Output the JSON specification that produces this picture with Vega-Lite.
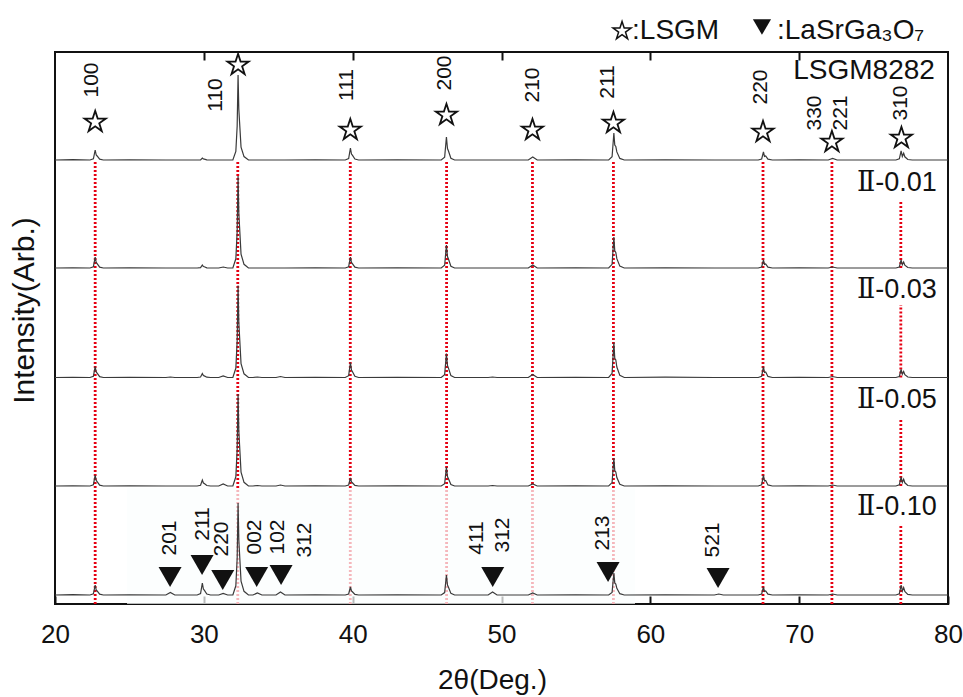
{
 "$schema": "https://vega.github.io/schema/vega-lite/v6.json",
 "width": 893, "height": 552,
 "autosize": {"type": "none"},
 "padding": {"left": 55, "top": 52, "right": 15, "bottom": 93},
 "background": "white",
 "config": {"view": {"stroke": "#111", "strokeWidth": 2}, "font": "Liberation Sans"},
 "datasets": {
  "trace": [
   {"x":20,"A":444,"B":336,"C":226.5,"D":118,"E":9},
   {"x":21.2,"A":444.3,"B":336.2,"C":226.7,"D":118.2,"E":9.3},
   {"x":22.35,"A":444,"B":336,"C":226.5,"D":118,"E":9},
   {"x":22.58,"A":445.2,"B":337.3,"C":227.8,"D":119.3,"E":10.2},
   {"x":22.7,"A":454,"B":347,"C":237.5,"D":129,"E":19},
   {"x":22.77,"A":449,"B":341.5,"C":232,"D":123.5,"E":14},
   {"x":22.83,"A":448,"B":340.4,"C":230.9,"D":122.4,"E":13},
   {"x":23.0,"A":444.8,"B":336.9,"C":227.4,"D":118.9,"E":9.8},
   {"x":23.25,"A":444,"B":336,"C":226.5,"D":118,"E":9},
   {"x":25.0,"A":444.2,"B":336.1,"C":226.6,"D":118.1,"E":9.2},
   {"x":27.45,"A":444,"B":336,"C":226.5,"D":118,"E":9},
   {"x":27.75,"A":444,"B":336,"C":227,"D":118,"E":11.5},
   {"x":28.05,"A":444,"B":336,"C":226.5,"D":118,"E":9},
   {"x":29.55,"A":444,"B":336,"C":226.5,"D":118,"E":9},
   {"x":29.78,"A":444.2,"B":336.4,"C":227,"D":118.7,"E":10.4},
   {"x":29.9,"A":446,"B":339,"C":230.5,"D":124,"E":21},
   {"x":29.97,"A":445,"B":337.5,"C":228.5,"D":121,"E":15},
   {"x":30.03,"A":444.8,"B":337.2,"C":228.1,"D":120.4,"E":13.8},
   {"x":30.2,"A":444.2,"B":336.2,"C":226.8,"D":118.5,"E":10},
   {"x":30.45,"A":444,"B":336,"C":226.5,"D":118,"E":9},
   {"x":31.0,"A":444,"B":336,"C":226.5,"D":118,"E":9},
   {"x":31.3,"A":444,"B":337,"C":228,"D":120,"E":10.5},
   {"x":31.6,"A":444,"B":336,"C":226.5,"D":118,"E":9},
   {"x":31.95,"A":444,"B":336,"C":226.5,"D":118,"E":9},
   {"x":32.15,"A":452.5,"B":345.2,"C":235.7,"D":127.2,"E":18.2},
   {"x":32.24,"A":478,"B":372.8,"C":263.3,"D":154.8,"E":45.8},
   {"x":32.3,"A":529,"B":428,"C":318.5,"D":210,"E":101},
   {"x":32.35,"A":495,"B":391.2,"C":281.7,"D":173.2,"E":64.2},
   {"x":32.4,"A":482.3,"B":377.4,"C":267.9,"D":159.4,"E":50.4},
   {"x":32.5,"A":456.8,"B":349.8,"C":240.3,"D":131.8,"E":22.8},
   {"x":32.7,"A":447.4,"B":339.7,"C":230.2,"D":121.7,"E":12.7},
   {"x":33.0,"A":444,"B":336,"C":226.5,"D":118,"E":9},
   {"x":33.3,"A":444,"B":336,"C":226.5,"D":118,"E":9},
   {"x":33.6,"A":444,"B":336,"C":227,"D":118.5,"E":11},
   {"x":33.9,"A":444,"B":336,"C":226.5,"D":118,"E":9},
   {"x":34.85,"A":444,"B":336,"C":226.5,"D":118,"E":9},
   {"x":35.15,"A":444,"B":336,"C":227.5,"D":119,"E":12},
   {"x":35.45,"A":444,"B":336,"C":226.5,"D":118,"E":9},
   {"x":37.5,"A":444.2,"B":336.2,"C":226.7,"D":118.2,"E":9.2},
   {"x":39.5,"A":444,"B":336,"C":226.5,"D":118,"E":9},
   {"x":39.73,"A":445.4,"B":337.3,"C":228.3,"D":119,"E":10},
   {"x":39.85,"A":456,"B":347,"C":241.5,"D":126,"E":17},
   {"x":39.92,"A":450,"B":341.5,"C":234,"D":122,"E":13},
   {"x":39.98,"A":448.8,"B":340.4,"C":232.5,"D":121.2,"E":12.2},
   {"x":40.15,"A":445,"B":336.9,"C":227.7,"D":118.6,"E":9.6},
   {"x":40.4,"A":444,"B":336,"C":226.5,"D":118,"E":9},
   {"x":43.0,"A":444.1,"B":336.2,"C":226.6,"D":118.1,"E":9.2},
   {"x":45.95,"A":444,"B":336,"C":226.5,"D":118,"E":9},
   {"x":46.18,"A":446.8,"B":338.8,"C":229.4,"D":120.3,"E":11.4},
   {"x":46.3,"A":467,"B":359,"C":250.5,"D":137,"E":29},
   {"x":46.37,"A":455.5,"B":347.5,"C":238.5,"D":127.5,"E":19},
   {"x":46.43,"A":453.2,"B":345.2,"C":236.1,"D":125.6,"E":17},
   {"x":46.6,"A":445.8,"B":337.8,"C":228.4,"D":119.5,"E":10.6},
   {"x":46.85,"A":444,"B":336,"C":226.5,"D":118,"E":9},
   {"x":49.1,"A":444,"B":336,"C":226.5,"D":118,"E":9},
   {"x":49.4,"A":444,"B":336,"C":227,"D":118.5,"E":12},
   {"x":49.7,"A":444,"B":336,"C":226.5,"D":118,"E":9},
   {"x":51.8,"A":444,"B":336,"C":226.5,"D":118,"E":9},
   {"x":52.1,"A":447,"B":339,"C":229.5,"D":120,"E":11},
   {"x":52.4,"A":444,"B":336,"C":226.5,"D":118,"E":9},
   {"x":55.0,"A":444.2,"B":336.1,"C":226.7,"D":118.2,"E":9.2},
   {"x":57.2,"A":444,"B":336,"C":226.5,"D":118,"E":9},
   {"x":57.43,"A":447.2,"B":339.7,"C":230.7,"D":121.4,"E":11.6},
   {"x":57.55,"A":471,"B":367,"C":261.5,"D":146,"E":31},
   {"x":57.61,"A":458.9,"B":353.1,"C":245.8,"D":133.4,"E":21.1},
   {"x":57.68,"A":457.5,"B":351.5,"C":244,"D":132,"E":20},
   {"x":57.75,"A":452.1,"B":345.3,"C":237,"D":126.4,"E":15.6},
   {"x":57.95,"A":445.6,"B":337.9,"C":228.6,"D":119.7,"E":10.3},
   {"x":58.25,"A":444,"B":336,"C":226.5,"D":118,"E":9},
   {"x":61.0,"A":444.1,"B":336.2,"C":226.8,"D":118.1,"E":9.2},
   {"x":64.3,"A":444,"B":336,"C":226.5,"D":118,"E":9},
   {"x":64.6,"A":444,"B":336,"C":226.5,"D":118,"E":10},
   {"x":64.9,"A":444,"B":336,"C":226.5,"D":118,"E":9},
   {"x":67.25,"A":444,"B":336,"C":226.5,"D":118,"E":9},
   {"x":67.48,"A":445,"B":337,"C":227.8,"D":119.3,"E":10},
   {"x":67.6,"A":452,"B":344,"C":237.5,"D":129,"E":17},
   {"x":67.67,"A":447.6,"B":339.6,"C":231.5,"D":123,"E":12.6},
   {"x":67.75,"A":448,"B":340,"C":232,"D":123.5,"E":13},
   {"x":67.9,"A":444.8,"B":336.8,"C":227.6,"D":119.1,"E":9.8},
   {"x":68.2,"A":444,"B":336,"C":226.5,"D":118,"E":9},
   {"x":70.0,"A":444.2,"B":336.1,"C":226.6,"D":118.2,"E":9.1},
   {"x":71.95,"A":444,"B":336,"C":226.5,"D":118,"E":9},
   {"x":72.25,"A":445.5,"B":337,"C":227.5,"D":119,"E":10},
   {"x":72.55,"A":444,"B":336,"C":226.5,"D":118,"E":9},
   {"x":76.5,"A":444,"B":336,"C":226.5,"D":118,"E":9},
   {"x":76.73,"A":445.1,"B":337,"C":227.5,"D":119.1,"E":10.2},
   {"x":76.85,"A":453,"B":344,"C":234.5,"D":127,"E":19},
   {"x":76.93,"A":447.6,"B":339.2,"C":229.7,"D":121.6,"E":13},
   {"x":77.02,"A":450.8,"B":342,"C":232.5,"D":124.8,"E":16.5},
   {"x":77.1,"A":447.2,"B":338.8,"C":229.3,"D":121.2,"E":12.5},
   {"x":77.3,"A":444.5,"B":336.5,"C":227,"D":118.5,"E":9.6},
   {"x":77.6,"A":444,"B":336,"C":226.5,"D":118,"E":9},
   {"x":80,"A":444,"B":336,"C":226.5,"D":118,"E":9}
  ],
  "rules": [
   {"x":22.7,"y":0,"y2":444},
   {"x":32.28,"y":0,"y2":444},
   {"x":39.84,"y":0,"y2":444},
   {"x":46.31,"y":0,"y2":444},
   {"x":52.08,"y":0,"y2":444},
   {"x":57.52,"y":0,"y2":444},
   {"x":67.57,"y":0,"y2":444},
   {"x":72.2,"y":0,"y2":444},
   {"x":76.83,"y":336,"y2":402},
   {"x":76.83,"y":226.5,"y2":299},
   {"x":76.83,"y":118,"y2":184},
   {"x":76.83,"y":0,"y2":80}
  ],
  "shade": [{"x":24.84,"x2":58.97,"y":0,"y2":116}],
  "stars": [
   {"x":22.7,"y":482},{"x":32.3,"y":539},{"x":39.84,"y":474},{"x":46.3,"y":489},
   {"x":52.08,"y":474},{"x":57.52,"y":481},{"x":67.57,"y":472},{"x":72.2,"y":462},{"x":76.87,"y":466}
  ],
  "tris": [
   {"x":27.73,"y":27},{"x":29.88,"y":39},{"x":31.27,"y":24},{"x":33.55,"y":27},
   {"x":35.19,"y":29},{"x":49.41,"y":27},{"x":57.16,"y":32},{"x":64.55,"y":26}
  ],
  "hkl": [
   {"x":22.49,"y":524,"t":"100"},{"x":30.82,"y":509,"t":"110"},{"x":39.62,"y":519,"t":"111"},
   {"x":46.2,"y":531,"t":"200"},{"x":52.12,"y":519,"t":"210"},{"x":57.16,"y":522,"t":"211"},
   {"x":67.44,"y":517,"t":"220"},{"x":71.07,"y":491,"t":"330"},{"x":72.81,"y":491,"t":"221"},
   {"x":76.84,"y":501,"t":"310"},
   {"x":27.73,"y":66,"t":"201"},{"x":29.93,"y":80,"t":"211"},{"x":31.22,"y":65,"t":"220"},
   {"x":33.43,"y":67,"t":"002"},{"x":34.98,"y":67,"t":"102"},{"x":36.8,"y":64,"t":"312"},
   {"x":48.36,"y":66,"t":"411"},{"x":50.1,"y":69,"t":"312"},{"x":56.82,"y":71,"t":"213"},
   {"x":64.21,"y":64,"t":"521"}
  ],
  "samples": [
   {"x":79.25,"y":421,"t":"Ⅱ-0.01"},{"x":79.25,"y":314,"t":"Ⅱ-0.03"},
   {"x":79.25,"y":204,"t":"Ⅱ-0.05"},{"x":79.25,"y":97,"t":"Ⅱ-0.10"}
  ],
  "main": [{"x":79.12,"y":533,"t":"LSGM8282"}],
  "legtext": [{"x":58.77,"y":573,"t":":LSGM"},{"x":68.51,"y":573,"t":":LaSrGa₃O₇"}],
  "legstar": [{"x":58.1,"y":573}],
  "legtri": [{"x":67.5,"y":577}]
 },
 "encoding": {
  "x": {"field": "x", "type": "quantitative", "scale": {"domain": [20, 80], "nice": false, "zero": false}, "axis": null},
  "y": {"field": "y", "type": "quantitative", "scale": {"domain": [0, 552], "nice": false, "zero": false},
        "axis": {"title": "Intensity(Arb.)", "titleFontSize": 30, "titleFontWeight": "normal", "titleColor": "#111",
                 "titlePadding": 16, "titleY": 258, "labels": false, "ticks": false, "domain": false, "grid": false}}
 },
 "layer": [
  {
   "data": {"name": "rules"},
   "mark": {"type": "rule", "color": "#e60012", "strokeWidth": 2.8, "strokeDash": [2, 2]},
   "encoding": {
    "x": {"field": "x", "type": "quantitative", "scale": {"domain": [20, 80], "nice": false, "zero": false},
          "axis": {"orient": "top", "values": [30, 40, 50, 60, 70], "labels": false, "tickSize": -8, "tickWidth": 2,
                   "tickColor": "#111", "domain": false, "grid": false, "title": null}},
    "y2": {"field": "y2"}
   }
  },
  {
   "data": {"name": "shade"},
   "mark": {"type": "rect", "fill": "#fbfdfd", "opacity": 0.72},
   "encoding": {"x2": {"field": "x2"}, "y2": {"field": "y2"}}
  },
  {
   "data": {"name": "trace"},
   "transform": [{"fold": ["A", "B", "C", "D", "E"], "as": ["s", "y"]}],
   "mark": {"type": "line", "color": "#3a3a3a", "strokeWidth": 1.2},
   "encoding": {
    "x": {"field": "x", "type": "quantitative", "scale": {"domain": [20, 80], "nice": false, "zero": false},
          "axis": {"orient": "bottom", "values": [20, 30, 40, 50, 60, 70, 80], "tickSize": -8, "tickWidth": 2,
                   "tickColor": "#111", "labelFontSize": 26, "labelColor": "#111", "labelPadding": 25, "labelFlush": false,
                   "domain": false, "grid": false, "title": "2θ(Deg.)", "titleFontSize": 28, "titleFontWeight": "normal",
                   "titleColor": "#111", "titleX": 437, "titleY": 62}},
    "detail": {"field": "s"}
   }
  },
  {
   "data": {"name": "stars"},
   "mark": {"type": "point", "shape": "M0,-1L0.2245,-0.309L0.951,-0.309L0.363,0.118L0.588,0.809L0,0.382L-0.588,0.809L-0.363,0.118L-0.951,-0.309L-0.2245,-0.309Z",
            "size": 500, "filled": false, "stroke": "#111", "strokeWidth": 1.8, "opacity": 1}
  },
  {
   "data": {"name": "tris"},
   "mark": {"type": "point", "shape": "triangle-down", "size": 529, "filled": true, "fill": "#111", "opacity": 1}
  },
  {
   "data": {"name": "hkl"},
   "mark": {"type": "text", "angle": 270, "fontSize": 21, "color": "#111", "align": "center", "baseline": "middle"},
   "encoding": {"text": {"field": "t"}}
  },
  {
   "data": {"name": "samples"},
   "mark": {"type": "text", "fontSize": 27, "color": "#111", "align": "right", "baseline": "middle", "font": "Liberation Sans, DejaVu Serif"},
   "encoding": {"text": {"field": "t"}}
  },
  {
   "data": {"name": "main"},
   "mark": {"type": "text", "fontSize": 28, "color": "#111", "align": "right", "baseline": "middle"},
   "encoding": {"text": {"field": "t"}}
  },
  {
   "data": {"name": "legtext"},
   "mark": {"type": "text", "fontSize": 28, "color": "#111", "align": "left", "baseline": "middle"},
   "encoding": {"text": {"field": "t"}}
  },
  {
   "data": {"name": "legstar"},
   "mark": {"type": "point", "shape": "M0,-1L0.2245,-0.309L0.951,-0.309L0.363,0.118L0.588,0.809L0,0.382L-0.588,0.809L-0.363,0.118L-0.951,-0.309L-0.2245,-0.309Z",
            "size": 360, "filled": false, "stroke": "#111", "strokeWidth": 1.5, "opacity": 1}
  },
  {
   "data": {"name": "legtri"},
   "mark": {"type": "point", "shape": "triangle-down", "size": 330, "filled": true, "fill": "#111", "opacity": 1}
  }
 ],
 "resolve": {"axis": {"x": "independent"}}
}
